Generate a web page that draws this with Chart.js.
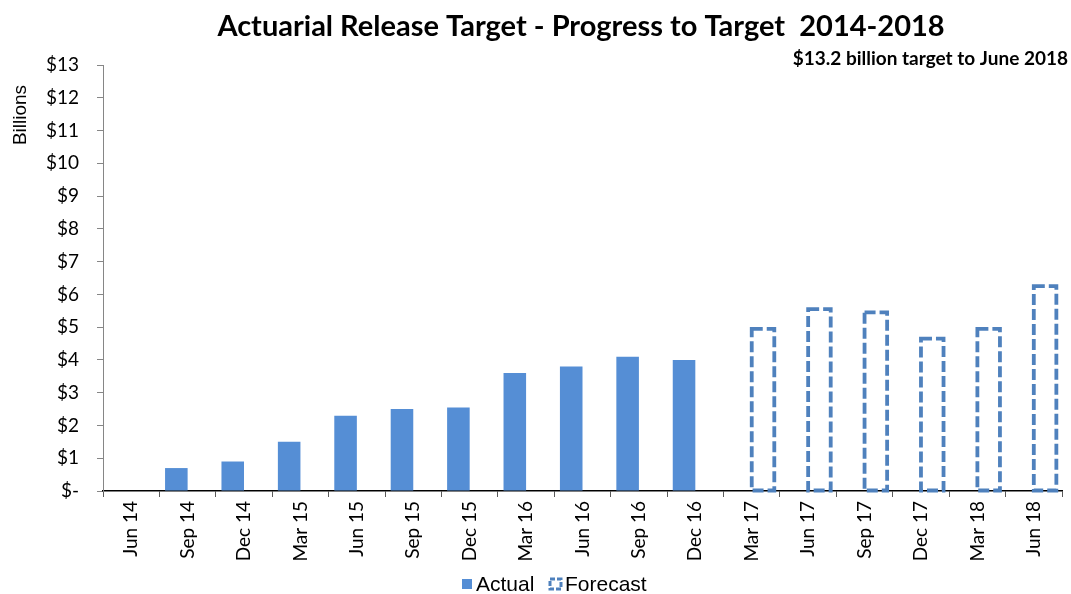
<!DOCTYPE html>
<html>
<head>
<meta charset="utf-8">
<script src="https://cdn.jsdelivr.net/npm/chart.js@4"></script>
<style>
  html, body { margin: 0; padding: 0; background: #fff; }
  #wrap { width: 1071px; height: 594px; }
</style>
</head>
<body>
<div id="wrap"><canvas id="chart" width="1071" height="594"></canvas></div>
<script>
// quarters on the x axis
var quarters = ["Jun 14", "Sep 14", "Dec 14", "Mar 15", "Jun 15", "Sep 15", "Dec 15",
    "Mar 16", "Jun 16", "Sep 16", "Dec 16", "Mar 17", "Jun 17", "Sep 17", "Dec 17",
    "Mar 18", "Jun 18"];

// released to date, $ billions
var actual = [null, 0.7, 0.9, 1.5, 2.3, 2.5, 2.55, 3.6, 3.8, 4.1, 4.0,
    null, null, null, null, null, null];

// forecast releases, $ billions
var forecast = [null, null, null, null, null, null, null, null, null, null, null,
    4.95, 5.55, 5.45, 4.65, 4.95, 6.25];

var yMax = 13;

var actualColor = "#558ed5",
    forecastColor = "#4f81bd";

var calibri = "Lato, 'Open Sans', sans-serif",
    arial = "'Liberation Sans', Arial, sans-serif";

// bars with a dashed outline: the bar element fills its border, so stroke it here
var dashedOutline = {
    id: "dashedOutline",
    afterDatasetsDraw: function (chart) {
        var meta = chart.getDatasetMeta(1),
            ctx = chart.ctx;
        ctx.save();
        ctx.strokeStyle = forecastColor;
        ctx.lineWidth = 3.8;
        ctx.setLineDash([11, 4]);
        meta.data.forEach(function (bar, i) {
            if (forecast[i] === null) {
                return;
            }
            var p = bar.getProps(["x", "y", "base", "width"], true);
            ctx.strokeRect(p.x - p.width / 2, p.y, p.width, p.base - p.y);
        });
        ctx.restore();
    }
};

// title, target note, "Billions" label and the legend
var headings = {
    id: "headings",
    afterDraw: function (chart) {
        var ctx = chart.ctx;
        ctx.save();
        ctx.fillStyle = "#000";
        ctx.textBaseline = "middle";

        ctx.font = "bold 29px " + calibri;
        ctx.textAlign = "center";
        ctx.fillText("Actuarial Release Target - Progress to Target  2014-2018", 581, 27);

        ctx.font = "bold 19px " + calibri;
        ctx.textAlign = "right";
        ctx.fillText("$13.2 billion target to June 2018", 1068, 59);

        ctx.save();
        ctx.font = "19px " + arial;
        ctx.textAlign = "center";
        ctx.translate(21, 115);
        ctx.rotate(-Math.PI / 2);
        ctx.fillText("Billions", 0, 0);
        ctx.restore();

        // legend
        var ly = 584;
        ctx.font = "21px " + arial;
        ctx.textAlign = "left";
        ctx.fillStyle = actualColor;
        ctx.fillRect(462, ly - 5, 10, 10);
        ctx.fillStyle = "#000";
        ctx.fillText(chart.data.datasets[0].label, 476, ly + 1);

        ctx.strokeStyle = forecastColor;
        ctx.lineWidth = 3;
        ctx.setLineDash([5, 2]);
        ctx.strokeRect(550, ly - 5, 11, 10);
        ctx.setLineDash([]);
        ctx.fillText(chart.data.datasets[1].label, 565, ly + 1);
        ctx.restore();
    }
};

new Chart(document.getElementById("chart"), {
    type: "bar",
    data: {
        labels: quarters,
        datasets: [{
            label: "Actual",
            data: actual,
            backgroundColor: actualColor,
            borderWidth: 0,
            categoryPercentage: 0.8,
            barPercentage: 1.0
        }, {
            label: "Forecast",
            data: forecast,
            backgroundColor: "rgba(0,0,0,0)",
            borderWidth: 0,
            categoryPercentage: 0.8,
            barPercentage: 1.0
        }]
    },
    options: {
        responsive: false,
        animation: false,
        layout: {
            padding: { top: 65, right: 9, left: 0, bottom: 0 }
        },
        plugins: {
            title: { display: false },
            tooltip: { enabled: false },
            legend: { display: false }
        },
        scales: {
            x: {
                grid: {
                    offset: true,
                    drawOnChartArea: false,
                    drawTicks: true,
                    tickLength: 6,
                    color: "#5a5a5a"
                },
                border: { color: "#000", width: 1.5 },
                ticks: {
                    color: "#000",
                    font: { family: calibri, size: 19 },
                    minRotation: 90,
                    maxRotation: 90,
                    autoSkip: false,
                    padding: 4
                },
                afterFit: function (scale) {
                    scale.height = 103;
                }
            },
            y: {
                min: 0,
                max: yMax,
                grid: {
                    drawOnChartArea: false,
                    drawTicks: true,
                    tickLength: 6,
                    color: "#868686"
                },
                border: { color: "#868686", width: 1 },
                ticks: {
                    stepSize: 1,
                    color: "#000",
                    font: { family: calibri, size: 19 },
                    padding: 18,
                    callback: function (v) {
                        return v === 0 ? "$-" : "$" + v;
                    }
                },
                afterFit: function (scale) {
                    scale.width = 103;
                }
            }
        }
    },
    plugins: [dashedOutline, headings]
});
</script>
</body>
</html>
